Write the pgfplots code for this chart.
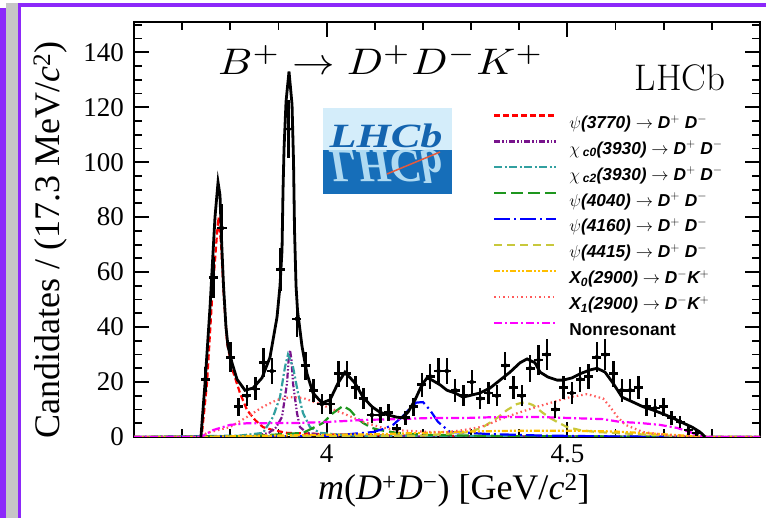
\documentclass[border=0pt]{standalone}
\usepackage{pgfplots}
\pgfplotsset{compat=1.18}
\usepackage{fontspec}
\newfontfamily\timesfont{Liberation Serif}
\newfontfamily\legfont{Liberation Sans}
\definecolor{framepurple}{RGB}{140,40,250}
\definecolor{cpsiA}{RGB}{255,0,0}
\definecolor{cchiz}{RGB}{120,20,140}
\definecolor{cchit}{RGB}{50,160,160}
\definecolor{cpsiB}{RGB}{30,150,30}
\definecolor{cpsiC}{RGB}{0,0,255}
\definecolor{cpsiD}{RGB}{200,200,60}
\definecolor{cXz}{RGB}{255,190,0}
\definecolor{cXo}{RGB}{255,90,90}
\definecolor{cnr}{RGB}{255,0,255}
\definecolor{logolight}{RGB}{212,237,250}
\definecolor{logodark}{RGB}{22,110,185}
\definecolor{logotext}{RGB}{20,100,175}
\definecolor{logorefl}{RGB}{175,218,242}
\newcommand\ls{\rule[-5pt]{0pt}{22pt}}
\begin{document}
\begin{tikzpicture}[x=1pt,y=1pt]
\useasboundingbox (0,0) rectangle (766,518);
\fill[framepurple] (0,0) rectangle (6,510);
\fill[gray!45] (6,0) rectangle (17.5,515);
\fill[framepurple] (17.5,0) rectangle (20.5,515);
\fill[framepurple] (17.5,511) rectangle (766,515);
\begin{axis}[
  scale only axis, width=626pt, height=415pt,
  at={(134pt,81pt)}, anchor=south west,
  xmin=3.6, xmax=4.9, ymin=0, ymax=151,
  xtick={4,4.5}, xticklabels={4,4.5},
  minor xtick={3.6,3.7,3.8,3.9,4.1,4.2,4.3,4.4,4.6,4.7,4.8},
  ytick={0,20,40,60,80,100,120,140},
  minor ytick={5,10,15,25,30,35,45,50,55,65,70,75,85,90,95,105,110,115,125,130,135,145,150},
  tick align=inside, major tick length=15pt, minor tick length=8pt,
  tick style={black, line width=1.8pt},
  axis line style={line width=2.5pt},
  /pgf/number format/assume math mode=true,
  ticklabel style={font=\timesfont\fontsize{27}{27}\selectfont},
  xticklabel style={inner sep=0pt, yshift=-8pt},
  yticklabel style={inner sep=0pt, xshift=-10pt},
  xlabel={\timesfont\fontsize{36}{36}\selectfont \textit{m}(\textit{D}\textsuperscript{+}\textit{D}\textsuperscript{\char"2212}) [GeV/\textit{c}\textsuperscript{2}]},
  ylabel={\timesfont\fontsize{36}{36}\selectfont Candidates / (17.3 MeV/\textit{c}\textsuperscript{2})},
  every axis x label/.style={at={(axis description cs:0.511,-0.128)}, anchor=center, inner sep=0pt},
  every axis y label/.style={at={(axis description cs:-0.134,0.475)}, anchor=center, rotate=90, inner sep=0pt},
  legend style={at={(0.5735,0.790)}, anchor=north west, draw=none, fill=none,
    inner sep=0pt, row sep=3.4pt, column sep=10pt,
    font=\legfont\bfseries\itshape\fontsize{17.28}{18}\selectfont},
  legend cell align=left,
  legend image code/.code={\draw[#1] (0pt,5pt) -- (62pt,5pt);},
]
% psi(3770)
\addplot[cpsiA, line width=2.2pt, dash pattern=on 6pt off 3pt] coordinates {
(3.6,0)(3.739,0)(3.7412,1.5)(3.7516,19.6)(3.762,50)(3.7724,74)(3.7755,80)(3.7807,70.5)(3.7869,50)(3.7935,34)(3.8045,24.4)(3.8201,16)(3.8347,9.8)(3.8513,6.2)(3.8679,3.6)(3.8887,2.5)(3.9178,1.5)(4.0,1.0)(4.1,0.6)(4.3,0.3)(4.785,0)(4.9,0)};
\addlegendentry{\ls$\psi$(3770) $\rightarrow$ D$^{+}$ D$^{-}$}
% chi_c0
\addplot[cchiz, line width=2.2pt, dash pattern=on 6pt off 2pt on 1.5pt off 2pt on 1.5pt off 2pt] coordinates {
(3.6,0)(3.85,0.3)(3.88,1.5)(3.895,3.5)(3.9074,7.3)(3.9178,19.6)(3.921,28)(3.924,31.6)(3.927,28)(3.9302,19.6)(3.9385,8.7)(3.9447,3.6)(3.9593,1.5)(4.0,0.5)(4.2,0.2)(4.785,0)(4.9,0)};
\addlegendentry{\ls$\chi$\,\textsubscript{c0}(3930) $\rightarrow$ D$^{+}$ D$^{-}$}
% chi_c2
\addplot[cchit, line width=2.2pt, dash pattern=on 8pt off 2.5pt on 2pt off 2.5pt] coordinates {
(3.6,0)(3.82,0.5)(3.8679,1.5)(3.8887,7.3)(3.9032,14.5)(3.9136,25.5)(3.9198,30)(3.9302,25.5)(3.9406,16)(3.951,8.7)(3.9655,3.6)(3.9863,1.5)(4.05,0.5)(4.785,0)(4.9,0)};
\addlegendentry{\ls$\chi$\,\textsubscript{c2}(3930) $\rightarrow$ D$^{+}$ D$^{-}$}
% psi(4040)
\addplot[cpsiB, line width=2.2pt, dash pattern=on 12pt off 5pt] coordinates {
(3.6,0)(3.85,0.4)(3.951,1.5)(3.9925,5.1)(4.0133,8.7)(4.034,11.3)(4.0486,9.8)(4.0631,6.9)(4.0756,5.1)(4.0943,3.3)(4.1109,2.5)(4.1462,1.5)(4.2147,0.7)(4.4,0.3)(4.785,0)(4.9,0)};
\addlegendentry{\ls$\psi$(4040) $\rightarrow$ D$^{+}$ D$^{-}$}
% psi(4160)
\addplot[cpsiC, line width=2.2pt, dash pattern=on 16pt off 4pt on 2pt off 4pt] coordinates {
(3.6,0)(4.0,0.3)(4.0964,1.8)(4.1171,2.9)(4.1379,4.4)(4.1566,7.3)(4.1732,10.5)(4.186,12.5)(4.2002,12.7)(4.2147,9.8)(4.2313,5.5)(4.2563,1.8)(4.2978,1.5)(4.3331,1.1)(4.45,0.5)(4.6,0.2)(4.785,0)(4.9,0)};
\addlegendentry{\ls$\psi$(4160) $\rightarrow$ D$^{+}$ D$^{-}$}
% psi(4415)
\addplot[cpsiD, line width=2.2pt, dash pattern=on 8pt off 5pt] coordinates {
(3.6,0)(4.2,0.5)(4.2978,1.8)(4.3248,3.6)(4.3539,6.9)(4.3746,9.8)(4.3954,12)(4.412,12.7)(4.4286,11.6)(4.4474,9)(4.464,6.9)(4.4785,5.5)(4.4993,3.6)(4.5263,2.5)(4.5616,1.8)(4.5948,1.5)(4.68,0.7)(4.785,0)(4.9,0)};
\addlegendentry{\ls$\psi$(4415) $\rightarrow$ D$^{+}$ D$^{-}$}
% X0(2900)
\addplot[cXz, line width=2.2pt, dash pattern=on 6pt off 2pt on 2pt off 2pt on 2pt off 2pt] coordinates {
(3.6,0)(3.739,0)(3.85,0.4)(4.0,0.8)(4.1,1.0)(4.2,1.5)(4.3,2.0)(4.4,2.3)(4.5,2.3)(4.6,2.0)(4.7,1.0)(4.785,0)(4.9,0)};
\addlegendentry{\ls X\textsubscript{0}(2900) $\rightarrow$ D$^{-}$K$^{+}$}
% X1(2900)
\addplot[cXo, line width=2.2pt, dash pattern=on 1.5pt off 3pt] coordinates {
(3.6,0)(3.739,0)(3.7516,1.5)(3.7994,3.6)(3.8347,7.3)(3.8679,11)(3.897,13.5)(3.924,14.5)(3.951,14.2)(3.98,12.4)(4.007,10.5)(4.0424,8)(4.0756,5.5)(4.1109,3.6)(4.1462,2.5)(4.1794,2.2)(4.2147,1.8)(4.25,1.8)(4.2833,2.5)(4.3186,3.6)(4.3331,4.4)(4.3663,6.9)(4.4016,9)(4.437,11)(4.4702,12.7)(4.5055,14.5)(4.5408,15.6)(4.5741,14)(4.5886,11)(4.6031,7.5)(4.6197,4.5)(4.6571,1.8)(4.7069,0.7)(4.7485,0.3)(4.785,0)(4.9,0)};
\addlegendentry{\ls X\textsubscript{1}(2900) $\rightarrow$ D$^{-}$K$^{+}$}
% Nonresonant
\addplot[cnr, line width=2.2pt, dash pattern=on 8pt off 3pt on 2pt off 3pt] coordinates {
(3.6,0)(3.739,0)(3.7641,2.5)(3.7994,4.4)(3.8347,5.0)(3.9385,5.1)(4.007,5.5)(4.0756,6.2)(4.1462,6.5)(4.2147,6.9)(4.2833,6.9)(4.3663,7.3)(4.437,7.3)(4.5055,6.9)(4.5741,6.5)(4.6093,5.5)(4.6509,5.1)(4.6924,4.4)(4.7277,3.3)(4.7547,1.8)(4.7693,0.7)(4.785,0)(4.9,0)};
\addlegendentry{\ls\upshape Nonresonant}
% total fit
\addplot[black, line width=2.8pt, forget plot] coordinates {
(3.739,0)(3.7475,19.6)(3.7578,47)(3.7682,80)(3.7745,92.7)(3.7786,88)(3.7817,72)(3.7859,55)(3.791,40)(3.7952,33)(3.8035,27)(3.8139,21)(3.8305,17)(3.8471,17.8)(3.8658,21.5)(3.8824,29)(3.897,43.6)(3.9032,55)(3.9074,68)(3.9095,90)(3.9116,105)(3.9157,122)(3.9219,133)(3.9282,121)(3.9313,100)(3.9334,75)(3.9365,55)(3.9396,46)(3.9489,33)(3.9593,23)(3.9717,16)(3.9904,12.4)(4.007,13.5)(4.0237,19.6)(4.0382,23.6)(4.059,19.6)(4.0756,14.5)(4.0943,11)(4.1109,9)(4.1275,8)(4.1462,7.2)(4.1566,7)(4.169,9)(4.1836,13.5)(4.1981,19)(4.2085,21.5)(4.2189,20.7)(4.2355,19)(4.25,17)(4.2667,16)(4.2833,14.5)(4.302,15.3)(4.3186,16)(4.3393,17.8)(4.3601,20.7)(4.3809,23.6)(4.4016,27)(4.4162,28.4)(4.4328,27)(4.4432,23.6)(4.4598,21.8)(4.4785,20.7)(4.491,20.7)(4.5097,21.5)(4.5263,23)(4.5471,24.4)(4.5616,25)(4.5782,23.6)(4.5948,19.6)(4.6135,14.5)(4.6363,12.7)(4.6571,11)(4.6779,9.8)(4.6986,8.4)(4.7194,6.9)(4.7402,5.1)(4.7589,3.6)(4.7755,1.8)(4.7859,0)};
% data
\addplot[forget plot, only marks, mark=none,
  error bars/.cd, x dir=both, x explicit, y dir=both, y explicit, error mark=none,
  error bar style={draw=black, solid, line width=2.6pt}] coordinates {
(3.7480,21) +- (0.0095,4.6)
(3.7653,58) +- (0.0095,7.6)
(3.7826,76) +- (0.0095,8.7)
(3.7999,29) +- (0.0095,5.4)
(3.8172,11) +- (0.0095,3.3)
(3.8345,15) +- (0.0095,3.9)
(3.8518,17.5) +- (0.0095,4.2)
(3.8691,27) +- (0.0095,5.2)
(3.8864,24) +- (0.0095,4.9)
(3.9037,61) +- (0.0095,7.8)
(3.9210,112) +- (0.0095,10.5)
(3.9383,43) +- (0.0095,6.6)
(3.9556,26) +- (0.0095,5.1)
(3.9729,17) +- (0.0095,4.1)
(3.9902,12) +- (0.0095,3.5)
(4.0075,12) +- (0.0095,3.5)
(4.0248,23) +- (0.0095,4.8)
(4.0421,23) +- (0.0095,4.8)
(4.0594,18) +- (0.0095,4.2)
(4.0767,14) +- (0.0095,3.7)
(4.0940,8) +- (0.0095,2.8)
(4.1113,8) +- (0.0095,2.8)
(4.1286,9) +- (0.0095,3.0)
(4.1459,3) +- (0.0095,1.7)
(4.1632,7) +- (0.0095,2.6)
(4.1805,11) +- (0.0095,3.3)
(4.1978,19) +- (0.0095,4.4)
(4.2151,22) +- (0.0095,4.7)
(4.2324,24) +- (0.0095,4.9)
(4.2497,24) +- (0.0095,4.9)
(4.2670,17) +- (0.0095,4.1)
(4.2843,15) +- (0.0095,3.9)
(4.3016,20) +- (0.0095,4.5)
(4.3189,14) +- (0.0095,3.7)
(4.3362,16) +- (0.0095,4.0)
(4.3535,15) +- (0.0095,3.9)
(4.3708,26) +- (0.0095,5.1)
(4.3881,18) +- (0.0095,4.2)
(4.4054,15) +- (0.0095,3.9)
(4.4227,25) +- (0.0095,5.0)
(4.4400,28) +- (0.0095,5.3)
(4.4573,30) +- (0.0095,5.5)
(4.4746,10) +- (0.0095,3.2)
(4.4919,18) +- (0.0095,4.2)
(4.5092,16) +- (0.0095,4.0)
(4.5265,21) +- (0.0095,4.6)
(4.5438,22) +- (0.0095,4.7)
(4.5611,29) +- (0.0095,5.4)
(4.5784,30) +- (0.0095,5.5)
(4.5957,23) +- (0.0095,4.8)
(4.6130,17) +- (0.0095,4.1)
(4.6303,17) +- (0.0095,4.1)
(4.6476,18) +- (0.0095,4.2)
(4.6649,11) +- (0.0095,3.3)
(4.6822,10.5) +- (0.0095,3.2)
(4.6995,11) +- (0.0095,3.3)
(4.7168,7) +- (0.0095,2.6)
(4.7341,5.5) +- (0.0095,2.3)
(4.7514,2.5) +- (0.0095,1.6)
(4.7687,1.4) +- (0.0095,1.2)
};
\end{axis}
% title and LHCb label
\node[anchor=base, xscale=4.25, yscale=3.7, font=\fontsize{10}{12}\selectfont] at (381,443) {$B^{+}\rightarrow D^{+}D^{-}K^{+}$};
\node[anchor=base, font=\fontsize{37}{37}\selectfont] at (680,427) {LHCb};
% logo
\fill[logolight] (323,368) rectangle (452,410);
\fill[logodark] (323,324) rectangle (452,368);
\node[anchor=base, xscale=1.3, text=logotext, font=\timesfont\itshape\bfseries\fontsize{34}{34}\selectfont, inner sep=0pt] at (386,370) {LHCb};
\node[anchor=base, xscale=1.3, yscale=-1.4, text=logorefl, font=\timesfont\itshape\bfseries\fontsize{34}{34}\selectfont, inner sep=0pt] at (386,367) {LHCb};
\draw[line width=1.5pt, color={rgb,255:red,230;green,90;blue,60}] (387,344) -- (440,366);
\end{tikzpicture}
\end{document}
